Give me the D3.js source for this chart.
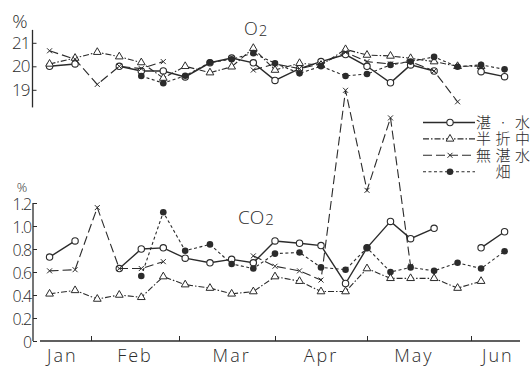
<!DOCTYPE html>
<html><head><meta charset="utf-8">
<script src="https://cdn.jsdelivr.net/npm/d3@7"></script>
<style>
body{margin:0;background:#fff}
svg{display:block}
text{fill:#2b2b2b}
</style></head><body>
<svg id="chart" width="531" height="367"></svg>
<script>
// Weekly sampling dates
const sampleDates = ["01-19","01-27","02-03","02-10","02-17","02-24","03-03","03-11","03-18","03-25",
  "04-01","04-09","04-16","04-24","05-01","05-08","05-14","05-21","05-28","06-04","06-11"];

// Series names (legend order)
const seriesNames = ["湛·水", "半折中", "無湛水", "畑"];

// O2 (%) per series
const o2Flooded = [20.0, 20.1, null, 20.0, 19.8, 19.8, 19.55, 20.15, 20.35, 20.15, 19.4, 19.9, 20.2, 20.5, 20.0, 19.3, 20.06, 19.8, null, 19.77, 19.56];
const o2Half    = [20.1, 20.35, 20.6, 20.41, 20.16, 19.5, 20.0, 19.73, 19.98, 20.77, 19.84, 20.13, 20.05, 20.72, 20.48, 20.44, 20.34, 20.2, 20.0, 20.0, null];
const o2NoFlood = [20.66, 20.3, 19.23, 20.0, 19.9, 20.2, null, null, null, 19.84, 20.1, 19.9, 20.1, 20.6, 20.2, 20.1, 20.2, 19.8, 18.49, null, null];
const o2Upland  = [null, null, null, null, 19.59, 19.28, 19.6, 20.16, 20.3, 20.56, 20.13, 19.7, 20.0, 19.59, 19.67, 20.06, 20.2, 20.4, 19.98, 20.06, 19.87];

// CO2 (%) per series
const co2Flooded = [0.73, 0.87, null, 0.63, 0.80, 0.81, 0.72, 0.68, 0.71, 0.68, 0.87, 0.85, 0.83, 0.50, 0.81, 1.04, 0.89, 0.98, null, 0.81, 0.95];
const co2Half    = [0.41, 0.44, 0.365, 0.40, 0.38, 0.56, 0.49, 0.46, 0.41, 0.43, 0.56, 0.52, 0.43, 0.43, 0.63, 0.545, 0.545, 0.545, 0.46, 0.52, null];
const co2NoFlood = [0.61, 0.62, 1.16, 0.63, 0.63, 0.69, null, null, null, 0.74, 0.65, 0.61, 0.53, 2.18, 1.31, 1.94, 0.65, null, null, null, null];
const co2Upland  = [null, null, null, null, 0.565, 1.12, 0.785, 0.84, 0.67, 0.63, 0.76, 0.77, 0.64, 0.62, 0.81, 0.60, 0.64, 0.61, 0.68, 0.63, 0.78];

// Axis ticks and labels
const monthStarts = ["02-01","03-01","04-01","05-01","06-01"];
const monthLabels = ["Jan","Feb","Mar","Apr","May","Jun"];
const monthLabelDates = ["01-23","02-15","03-18","04-16","05-15","06-09"];
const o2Ticks = [19, 20, 21];
const co2Ticks = [0, 0.2, 0.4, 0.6, 0.8, 1.0, 1.2];

const YEAR = "1958-";
const parse = d3.timeParse("%Y-%m-%d");
const dt = s => parse(YEAR + s);

const ink = "#2b2b2b";
const svg = d3.select("#chart");

// Time axis (hand-drawn month spacing)
const x = d3.scaleTime()
  .domain(["01-16","02-01","03-01","04-01","05-01","06-01","06-15"].map(dt))
  .range([40, 91, 179, 275, 367, 471, 518]);

const yO2 = d3.scaleLinear().domain([19, 21]).range([89.8, 42.8]);
const yCO2 = d3.scaleLinear().domain([0, 1.2]).range([341, 203]);

const fontNum = "'Open Sans', 'DejaVu Sans', sans-serif";

// x axis
const xAxis = d3.axisBottom(x).tickValues(monthStarts.map(dt)).tickSize(-5).tickFormat("");
const gx = svg.append("g").attr("transform", "translate(0,341)").call(xAxis);
gx.select(".domain").remove();
gx.selectAll(".tick line").attr("stroke", ink).attr("stroke-width", 1);
svg.append("line").attr("x1", 40).attr("x2", 520).attr("y1", 341).attr("y2", 341)
  .attr("stroke", ink).attr("stroke-width", 1.6);

svg.append("g").selectAll("text").data(monthLabels).join("text")
  .attr("x", (d, i) => x(dt(monthLabelDates[i])))
  .attr("y", 362)
  .attr("text-anchor", "middle")
  .style("font-family", fontNum).style("font-weight", 300).style("font-size", "18px")
  .style("letter-spacing", "2px")
  .text(d => d);

// O2 y axis
const gO2 = svg.append("g").attr("transform", "translate(32.5,0)")
  .call(d3.axisLeft(yO2).tickValues(o2Ticks).tickSizeInner(-4).tickSizeOuter(0).tickPadding(3).tickFormat(d3.format("d")));
gO2.select(".domain").remove();
gO2.selectAll(".tick line").attr("stroke", ink);
gO2.selectAll("text").style("font-family", fontNum).style("font-weight", 300).style("font-size", "17px")
  .attr("fill", ink).style("letter-spacing", "-1px");
gO2.append("line").attr("y1", yO2(21.55)).attr("y2", yO2(18.25)).attr("stroke", ink).attr("stroke-width", 1.3);

// CO2 y axis
const gCO2 = svg.append("g").attr("transform", "translate(33,0)")
  .call(d3.axisLeft(yCO2).tickValues(co2Ticks).tickSizeInner(-4).tickSizeOuter(0).tickPadding(2)
    .tickFormat(d => d === 0 ? "0" : d3.format(".1f")(d)));
gCO2.select(".domain").remove();
gCO2.selectAll(".tick line").attr("stroke", ink);
gCO2.selectAll("text").style("font-family", fontNum).style("font-weight", 300).style("font-size", "16px")
  .attr("fill", ink).style("letter-spacing", "-1.2px").attr("dy", "0.42em");
gCO2.append("line").attr("y1", yCO2(1.2)).attr("y2", yCO2(0)).attr("stroke", ink).attr("stroke-width", 1.3);

// unit and panel titles
svg.append("text").attr("x", 20).attr("y", 28).attr("text-anchor", "middle")
  .style("font-family", fontNum).style("font-weight", 300).style("font-size", "19px").text("%");
svg.append("text").attr("x", 22).attr("y", 192).attr("text-anchor", "middle")
  .style("font-family", fontNum).style("font-weight", 300).style("font-size", "13px").text("%");

const o2Title = svg.append("text").attr("x", 244).attr("y", 35)
  .style("font-family", fontNum).style("font-weight", 300).style("font-size", "18px");
o2Title.append("tspan").text("O");
o2Title.append("tspan").attr("dx", 1).attr("dy", 1).style("font-size", "15px").text("2");

const co2Title = svg.append("text").attr("x", 238).attr("y", 224)
  .style("font-family", fontNum).style("font-weight", 300).style("font-size", "19px");
co2Title.append("tspan").text("CO");
co2Title.append("tspan").attr("dx", 1).attr("dy", 1).style("font-size", "15px").text("2");

// series styles
const styles = [
  {dash: null, marker: "circle"},
  {dash: "6,2,1.5,2", marker: "triangle"},
  {dash: "9,4", marker: "cross"},
  {dash: "3,2.5", marker: "dot"}
];

function drawMarker(g, type, cx, cy) {
  if (type === "circle") {
    g.append("circle").attr("cx", cx).attr("cy", cy).attr("r", 3.2)
      .attr("fill", "#fff").attr("stroke", ink).attr("stroke-width", 1.1);
  } else if (type === "dot") {
    g.append("circle").attr("cx", cx).attr("cy", cy).attr("r", 3.3).attr("fill", ink);
  } else if (type === "triangle") {
    g.append("path").attr("d", d3.symbol(d3.symbolTriangle, 26)()).attr("transform", `translate(${cx},${cy})`)
      .attr("fill", "#fff").attr("stroke", ink).attr("stroke-width", 1);
  } else {
    g.append("path").attr("d", d3.symbol(d3.symbolTimes, 18)()).attr("transform", `translate(${cx},${cy})`)
      .attr("fill", "none").attr("stroke", ink).attr("stroke-width", 1);
  }
}

function drawPanel(seriesList, y) {
  const dates = sampleDates.map(dt);
  const line = d3.line().defined(d => d[1] != null).x(d => x(d[0])).y(d => y(d[1]));
  seriesList.forEach((vals, i) => {
    const pts = dates.map((d, j) => [d, vals[j]]);
    const g = svg.append("g");
    g.append("path").attr("d", line(pts)).attr("fill", "none").attr("stroke", ink)
      .attr("stroke-width", i === 0 ? 1.4 : 1.1).attr("stroke-dasharray", styles[i].dash);
    pts.filter(p => p[1] != null).forEach(p => drawMarker(g, styles[i].marker, x(p[0]), y(p[1])));
  });
}

drawPanel([o2Flooded, o2Half, o2NoFlood, o2Upland], yO2);
drawPanel([co2Flooded, co2Half, co2NoFlood, co2Upland], yCO2);

// legend
const legend = svg.append("g");
seriesNames.forEach((name, i) => {
  const ly = 122.5 + i * 16.4;
  legend.append("line").attr("x1", 423).attr("x2", 475).attr("y1", ly).attr("y2", ly)
    .attr("stroke", ink).attr("stroke-width", i === 0 ? 1.4 : 1.1).attr("stroke-dasharray", styles[i].dash);
  drawMarker(legend, styles[i].marker, 450, ly);
  const t = legend.append("text").attr("y", ly + 5.5)
    .style("font-family", "'Noto Sans CJK JP', sans-serif").style("font-size", "15px")
    .style("font-weight", 300).text(name);
  if (name.length > 1) {
    t.attr("x", 476).attr("textLength", 54).attr("lengthAdjust", "spacing");
  } else {
    t.attr("x", 503).attr("text-anchor", "middle");
  }
});
</script>
</body></html>
